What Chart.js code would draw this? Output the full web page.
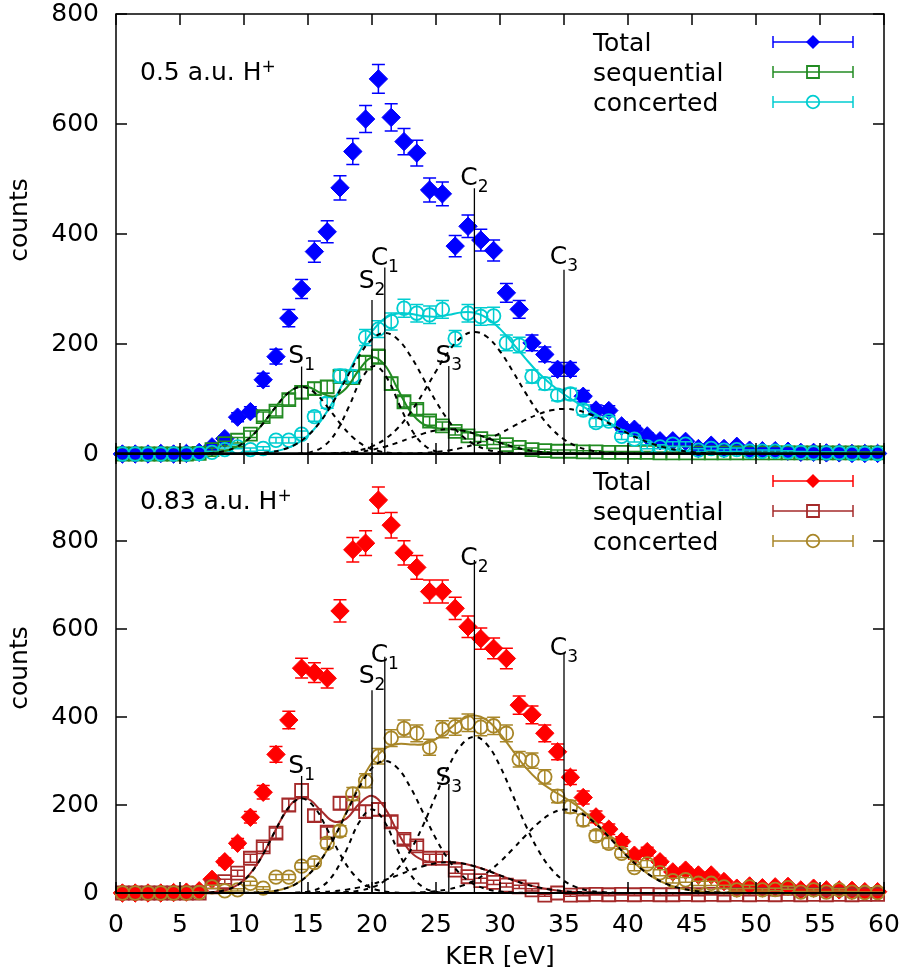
<!DOCTYPE html>
<html>
<head>
<meta charset="utf-8">
<title>KER spectra</title>
<script src="https://cdn.jsdelivr.net/npm/chart.js@4.4.1/dist/chart.umd.min.js"></script>
<style>
  html, body { margin: 0; padding: 0; background: #fff; }
  #page { position: relative; width: 904px; height: 976px; overflow: hidden; }
  #page canvas { position: absolute; left: 0; }
  #topChart { top: 0; }
  #bottomChart { top: 433px; }
</style>
</head>
<body>
<div id="page">
  <canvas id="topChart" width="904" height="470"></canvas>
  <canvas id="bottomChart" width="904" height="543"></canvas>
</div>
<script>
(function() {
    'use strict';

    // ---- data --------------------------------------------------------------

    // KER bin centres [eV]
    const kerBins = [0.5, 1.5, 2.5, 3.5, 4.5, 5.5, 6.5, 7.5, 8.5, 9.5,
        10.5, 11.5, 12.5, 13.5, 14.5, 15.5, 16.5, 17.5, 18.5, 19.5,
        20.5, 21.5, 22.5, 23.5, 24.5, 25.5, 26.5, 27.5, 28.5, 29.5,
        30.5, 31.5, 32.5, 33.5, 34.5, 35.5, 36.5, 37.5, 38.5, 39.5,
        40.5, 41.5, 42.5, 43.5, 44.5, 45.5, 46.5, 47.5, 48.5, 49.5,
        50.5, 51.5, 52.5, 53.5, 54.5, 55.5, 56.5, 57.5, 58.5, 59.5];

    const xTicks = [0, 5, 10, 15, 20, 25, 30, 35, 40, 45, 50, 55, 60];
    const yTicksTop = [0, 200, 400, 600, 800];
    const yTicksBottom = [0, 200, 400, 600, 800];

    // 0.5 a.u. H+ : counts per bin
    const topTotal = [0, 0, 0, 1, 0, 1, 3, 13, 28, 67,
        77, 135, 177, 247, 300, 368, 404, 484, 550, 609,
        682, 612, 568, 547, 480, 473, 378, 414, 389, 370,
        293, 263, 202, 181, 154, 154, 105, 80, 79, 51,
        45, 33, 24, 24, 23, 10, 16, 10, 14, 7,
        6, 6, 5, 3, 3, 2, 2, 1, 1, 1];
    const topSequential = [0, 0, 0, 0, 0, 0, 1, 8, 19, 25,
        36, 68, 78, 99, 112, 119, 122, 141, 139, 166,
        177, 128, 95, 81, 60, 51, 41, 33, 28, 22,
        17, 12, 8, 6, 5, 5, 4, 4, 3, 3,
        3, 3, 2, 2, 2, 2, 2, 2, 2, 2,
        2, 2, 2, 2, 2, 2, 2, 2, 2, 2];
    const topConcerted = [0, 0, 0, 0, 0, 0, 1, 3, 8, 13,
        8, 10, 25, 25, 36, 68, 93, 142, 141, 212,
        227, 241, 265, 256, 253, 263, 210, 256, 250, 251,
        202, 198, 141, 128, 107, 109, 80, 57, 60, 32,
        27, 13, 13, 18, 18, 7, 10, 7, 8, 5,
        5, 5, 4, 3, 2, 2, 2, 1, 1, 1];

    // 0.5 a.u. H+ : fit curves, one sample per eV starting at x0
    const topSeqFit = { x0: 6, y: [0.2, 0.9, 3.1, 8.8, 21.0, 42.1, 70.9, 100.4, 119.8, 121.9,
        111.2, 104.8, 119.9, 153.2, 175.6, 161.4, 118.5, 76.9, 54.2, 47.5,
        45.9, 43.0, 37.0, 29.0, 20.6, 13.3, 7.8, 4.1, 2.0, 0.9, 0.3] };
    const topConcFit = { x0: 10, y: [0.4, 1.2, 3.3, 7.9, 17.2, 33.8, 60.3, 96.9, 140.6, 185.4,
        222.7, 246.7, 255.6, 254.9, 250.7, 249.7, 253.1, 257.5, 256.9, 247.1,
        227.5, 201.3, 173.4, 147.7, 126.3, 108.7, 93.4, 79.1, 64.8, 50.9,
        37.9, 26.6, 17.7, 11.1, 6.5, 3.6, 1.9, 0.9, 0.4] };
    const topS1 = { x0: 6.5, y: [0.5, 1.7, 5.4, 13.9, 30.4, 55.9, 86.2, 111.9, 122, 111.9, 86.2, 55.9, 30.4, 13.9, 5.4, 1.7, 0.5] };
    const topS2 = { x0: 14.2, y: [0.6, 3.4, 13.6, 39.9, 86.3, 137.1, 160, 137.1, 86.3, 39.9, 13.6, 3.4, 0.6] };
    const topS3 = { x0: 17, y: [0.9, 2.0, 4.1, 7.8, 13.3, 20.6, 29.0, 37.0, 42.9, 45, 42.9, 37.0, 29.0, 20.6, 13.3, 7.8, 4.1, 2.0, 0.9] };
    const topC1 = { x0: 10, y: [0.4, 1.2, 3.3, 7.9, 17.2, 33.8, 59.9, 95.7, 137.7, 178.7, 208.8, 220,
        208.8, 178.7, 137.7, 95.7, 59.9, 33.8, 17.2, 7.9, 3.3, 1.2, 0.4] };
    const topC2 = { x0: 16, y: [0.4, 1.2, 2.9, 6.7, 13.9, 26.7, 46.8, 75.3, 111.1, 150.4, 186.7, 212.6, 222,
        212.6, 186.7, 150.4, 111.1, 75.3, 46.8, 26.7, 13.9, 6.7, 2.9, 1.2, 0.4] };
    const topC3 = { x0: 22, y: [0.4, 0.9, 1.9, 3.6, 6.5, 11.1, 17.7, 26.6, 37.5, 49.7, 61.9, 72.4, 79.5, 82,
        79.5, 72.4, 61.9, 49.7, 37.5, 26.6, 17.7, 11.1, 6.5, 3.6, 1.9, 0.9, 0.4] };

    // 0.83 a.u. H+ : counts per bin
    const bottomTotal = [0, 0, 0, 0, 1, 2, 5, 31, 71, 113,
        172, 229, 315, 393, 511, 501, 488, 641, 780, 795,
        893, 836, 773, 740, 685, 685, 647, 605, 578, 556,
        533, 427, 405, 363, 321, 263, 217, 173, 145, 117,
        86, 94, 71, 48, 52, 41, 41, 26, 11, 16,
        12, 14, 15, 7, 11, 7, 7, 6, 3, 3];
    const bottomSequential = [0, 0, 0, 0, 0, 0, 0, 14, 26, 45,
        79, 105, 136, 200, 233, 176, 138, 204, 204, 185,
        190, 162, 122, 107, 79, 79, 52, 37, 28, 24,
        18, 14, 7, -5, 0, -5, -4, -3, -4, -3,
        -4, -3, -4, -4, -3, -4, -3, -4, -3, -4,
        -3, -4, -3, -4, -3, -4, -3, -4, -3, -3];
    const bottomConcerted = [0, 0, 0, 0, 0, 0, 1, 14, 5, 7,
        22, 11, 36, 36, 61, 69, 113, 141, 225, 255,
        311, 352, 374, 363, 331, 372, 378, 387, 377, 380,
        363, 304, 301, 264, 220, 196, 166, 130, 113, 90,
        58, 66, 46, 28, 30, 22, 22, 14, 7, 14,
        7, 8, 12, 2, 7, 2, 7, 2, 1, 1];

    // 0.83 a.u. H+ : fit curves
    const bottomSeqFit = { x0: 6, y: [0.2, 0.8, 3.3, 10.8, 29.1, 64.1, 116.0, 172.1, 210.8, 213.8,
        187.5, 162.6, 169.2, 202.7, 220.9, 193.6, 138.5, 93.9, 74.1, 70.5,
        70.5, 67.6, 60.9, 51.3, 40.2, 29.5, 20.1, 12.8, 7.6, 4.2, 2.2, 1.1, 0.5] };
    const bottomConcFit = { x0: 10, y: [0.4, 1.2, 3.3, 8.6, 19.7, 40.6, 75.0, 124.0, 184.0, 245.4,
        296.5, 327.8, 338.4, 337.7, 338.3, 349.9, 371.7, 393.9, 403.3, 392.3,
        362.4, 323.3, 285.5, 255.9, 234.9, 217.5, 198.3, 174.0, 144.7, 112.8,
        81.9, 55.6, 35.1, 20.6, 11.2, 5.7, 2.7, 1.2, 0.5] };
    const bottomS1 = { x0: 6.5, y: [0.4, 1.7, 6.1, 18.2, 44.3, 88.4, 144.8, 194.8, 215, 194.8, 144.8, 88.4, 44.3, 18.2, 6.1, 1.7, 0.4] };
    const bottomS2 = { x0: 14, y: [0.5, 2.9, 13.2, 42.4, 97.5, 160.8, 190, 160.8, 97.5, 42.4, 13.2, 2.9, 0.5] };
    const bottomS3 = { x0: 14, y: [0.5, 1.1, 2.2, 4.2, 7.6, 12.8, 20.1, 29.5, 40.2, 51.3, 60.9, 67.6, 70,
        67.6, 60.9, 51.3, 40.2, 29.5, 20.1, 12.8, 7.6, 4.2, 2.2, 1.1, 0.5] };
    const bottomC1 = { x0: 10, y: [0.4, 1.2, 3.3, 8.6, 19.7, 40.6, 74.8, 123.3, 182.0, 240.2, 283.8, 300,
        283.8, 240.2, 182.0, 123.3, 74.8, 40.6, 19.7, 8.6, 3.3, 1.2, 0.4] };
    const bottomC2 = { x0: 17, y: [0.7, 2.0, 5.2, 12.7, 27.8, 54.6, 96.7, 154.4, 222.3, 288.3, 337.0, 355,
        337.0, 288.3, 222.3, 154.4, 96.7, 54.6, 27.8, 12.7, 5.2, 2.0, 0.7] };
    const bottomC3 = { x0: 23, y: [0.8, 1.9, 4.3, 8.6, 16.3, 28.6, 46.7, 70.8, 99.8, 130.7, 159.2, 180.3, 189.7,
        185.6, 168.8, 142.7, 112.1, 81.9, 55.6, 35.1, 20.6, 11.2, 5.7, 2.7, 1.2, 0.5] };

    // peak positions (vertical markers) and their labels
    const markKer = [14.5, 20, 21, 26, 28, 35];
    const markName = ['S', 'S', 'C', 'S', 'C', 'C'];
    const markSub = ['1', '2', '1', '3', '2', '3'];
    const topMarkTop = [159, 280, 339, 160, 483, 335];
    const topMarkLabel = [165, 302, 344, 165, 489, 345];
    const bottomMarkTop = [266, 461, 537, 248, 757, 545];
    const bottomMarkLabel = [272, 477, 526, 245, 745, 541];

    const legendNames = ['Total', 'sequential', 'concerted'];

    // ---- styling -----------------------------------------------------------
    const FONT = '"DejaVu Sans", sans-serif';
    const markerStyles = ['rectRot', 'rect', 'circle'];

    function points(values) {
        return values.map((v, i) => ({ x: kerBins[i], y: v }));
    }

    function curve(c) {
        return c.y.map((v, i) => ({ x: c.x0 + i, y: v }));
    }

    function markerSet(values, color, style, order) {
        const filled = style === 'rectRot';
        const radius = { rectRot: 9.2, rect: 9.2, circle: 6.8 }[style];
        return {
            data: points(values),
            showLine: false,
            errorBars: true,
            pointStyle: style,
            pointRadius: radius,
            pointHoverRadius: radius,
            pointBackgroundColor: filled ? color : 'rgba(0,0,0,0)',
            pointBorderColor: color,
            pointBorderWidth: filled ? 1 : 1.8,
            borderColor: color,
            backgroundColor: color,
            clip: false,
            order: order
        };
    }

    function lineSet(c, color, dashed, order) {
        return {
            data: curve(c),
            showLine: true,
            pointRadius: 0,
            pointHoverRadius: 0,
            borderColor: color,
            borderWidth: 2,
            borderDash: dashed ? [5, 5] : [],
            tension: 0.4,
            fill: false,
            clip: false,
            order: order
        };
    }

    function seg(ctx, x1, y1, x2, y2) {
        ctx.beginPath();
        ctx.moveTo(x1, y1);
        ctx.lineTo(x2, y2);
        ctx.stroke();
    }

    function drawMarker(ctx, style, x, y, color) {
        ctx.save();
        ctx.strokeStyle = color;
        ctx.fillStyle = color;
        ctx.lineWidth = 1.8;
        ctx.beginPath();
        if (style === 'rectRot') {
            ctx.moveTo(x, y - 7);
            ctx.lineTo(x + 7, y);
            ctx.lineTo(x, y + 7);
            ctx.lineTo(x - 7, y);
            ctx.closePath();
            ctx.fill();
        } else if (style === 'rect') {
            ctx.rect(x - 6, y - 6, 12, 12);
            ctx.stroke();
        } else {
            ctx.arc(x, y, 6.3, 0, Math.PI * 2);
            ctx.stroke();
        }
        ctx.restore();
    }

    // error bars, frame with inward ticks, peak markers, legend, captions
    function decor(p) {
        return {
            id: 'decor',
            beforeDatasetDraw(chart, args) {
                const ds = chart.data.datasets[args.index];
                if (!ds.errorBars) return;
                const { ctx, scales: { x, y } } = chart;
                ctx.save();
                ctx.strokeStyle = ds.borderColor;
                ctx.lineWidth = 1.5;
                ctx.beginPath();
                ds.data.forEach(pt => {
                    // Poisson uncertainty of the counts
                    const err = Math.sqrt(Math.abs(pt.y));
                    if (err < 1) return;
                    const px = x.getPixelForValue(pt.x);
                    const lo = y.getPixelForValue(pt.y - err);
                    const hi = y.getPixelForValue(pt.y + err);
                    ctx.moveTo(px, lo); ctx.lineTo(px, hi);
                    ctx.moveTo(px - 6.5, lo); ctx.lineTo(px + 6.5, lo);
                    ctx.moveTo(px - 6.5, hi); ctx.lineTo(px + 6.5, hi);
                });
                ctx.stroke();
                ctx.restore();
            },
            afterDatasetsDraw(chart) {
                const { ctx, chartArea: a, scales: { x, y } } = chart;
                ctx.save();
                ctx.strokeStyle = '#000';
                ctx.fillStyle = '#000';
                ctx.setLineDash([]);

                // zero line
                ctx.lineWidth = 2;
                const y0 = y.getPixelForValue(0);
                seg(ctx, a.left, y0, a.right, y0);

                // peak markers
                ctx.textAlign = 'left';
                ctx.textBaseline = 'alphabetic';
                markKer.forEach((k, i) => {
                    const px = x.getPixelForValue(k);
                    ctx.lineWidth = 1.3;
                    seg(ctx, px, y0, px, y.getPixelForValue(p.markTop[i]));
                    const base = y.getPixelForValue(p.markLabel[i]);
                    ctx.font = '25px ' + FONT;
                    const w1 = ctx.measureText(markName[i]).width;
                    ctx.font = '17px ' + FONT;
                    const w2 = ctx.measureText(markSub[i]).width;
                    const left = px - (w1 + w2) / 2;
                    ctx.font = '25px ' + FONT;
                    ctx.fillText(markName[i], left, base);
                    ctx.font = '17px ' + FONT;
                    ctx.fillText(markSub[i], left + w1, base + 7);
                });

                // frame and inward ticks
                ctx.lineWidth = 1.5;
                ctx.strokeRect(a.left, a.top, a.width, a.height);
                x.ticks.forEach(t => {
                    const px = x.getPixelForValue(t.value);
                    seg(ctx, px, a.bottom, px, a.bottom - 11);
                    seg(ctx, px, a.top, px, a.top + 11);
                });
                y.ticks.forEach(t => {
                    const py = y.getPixelForValue(t.value);
                    seg(ctx, a.left, py, a.left + 11, py);
                    seg(ctx, a.right, py, a.right - 11, py);
                });

                // panel caption
                ctx.font = '25px ' + FONT;
                const cx = a.left + 24;
                const cy = a.top + p.captionDy;
                ctx.fillText(p.caption, cx, cy);
                const cw = ctx.measureText(p.caption).width;
                ctx.font = '17px ' + FONT;
                ctx.fillText('+', cx + cw, cy - 8);

                // legend
                legendNames.forEach((name, i) => {
                    const rowY = a.top + 28 + i * 30;
                    ctx.font = '25px ' + FONT;
                    ctx.fillStyle = '#000';
                    ctx.fillText(name, a.right - 291, rowY + 9);
                    const x1 = a.right - 111, x2 = a.right - 31;
                    ctx.strokeStyle = p.colors[i];
                    ctx.lineWidth = 1.5;
                    seg(ctx, x1, rowY, x2, rowY);
                    seg(ctx, x1, rowY - 6, x1, rowY + 6);
                    seg(ctx, x2, rowY - 6, x2, rowY + 6);
                    drawMarker(ctx, markerStyles[i], (x1 + x2) / 2, rowY, p.colors[i]);
                });

                // y axis title
                ctx.save();
                ctx.fillStyle = '#000';
                ctx.font = '25px ' + FONT;
                ctx.translate(20, a.top + p.yTitleDy);
                ctx.rotate(-Math.PI / 2);
                ctx.textAlign = 'center';
                ctx.textBaseline = 'middle';
                ctx.fillText('counts', 0, 0);
                ctx.restore();

                ctx.restore();
            }
        };
    }

    function makeChart(id, p) {
        const datasets = [
            markerSet(p.total, p.colors[0], 'rectRot', 9),
            markerSet(p.seq, p.colors[1], 'rect', 8),
            markerSet(p.conc, p.colors[2], 'circle', 7),
            lineSet(p.seqFit, p.colors[1], false, 6),
            lineSet(p.concFit, p.colors[2], false, 5)
        ].concat(p.gauss.map(g => lineSet(g, '#000', true, 3)));

        return new Chart(document.getElementById(id), {
            type: 'scatter',
            data: { datasets: datasets },
            options: {
                responsive: false,
                animation: false,
                events: [],
                layout: { padding: p.padding },
                plugins: {
                    legend: { display: false },
                    tooltip: { enabled: false }
                },
                scales: {
                    x: {
                        type: 'linear',
                        min: 0,
                        max: 60,
                        afterBuildTicks: s => { s.ticks = xTicks.map(v => ({ value: v })); },
                        grid: { display: false, drawTicks: true, tickLength: 17 },
                        border: { display: false },
                        ticks: {
                            display: p.showX,
                            padding: 0,
                            maxRotation: 0,
                            color: '#000',
                            font: { family: FONT, size: 25, lineHeight: 1.2 }
                        },
                        title: {
                            display: p.showX,
                            text: 'KER [eV]',
                            color: '#000',
                            font: { family: FONT, size: 25, lineHeight: 1.2 },
                            padding: { top: 0, bottom: 4 }
                        },
                        afterFit: s => { s.height = p.xHeight; }
                    },
                    y: {
                        type: 'linear',
                        min: 0,
                        max: p.yMax,
                        afterBuildTicks: s => { s.ticks = p.yTicks.map(v => ({ value: v })); },
                        grid: { display: false, drawTicks: true, tickLength: 17 },
                        border: { display: false },
                        ticks: {
                            padding: 0,
                            color: '#000',
                            font: { family: FONT, size: 25, lineHeight: 1 }
                        },
                        afterFit: s => { s.width = 116; }
                    }
                }
            },
            plugins: [decor(p)]
        });
    }

    makeChart('topChart', {
        total: topTotal, seq: topSequential, conc: topConcerted,
        seqFit: topSeqFit, concFit: topConcFit,
        gauss: [topS1, topS2, topS3, topC1, topC2, topC3],
        colors: ['#0000ff', '#228b22', '#00cdd0'],
        markTop: topMarkTop, markLabel: topMarkLabel,
        caption: '0.5 a.u. H', captionDy: 66, yTitleDy: 206,
        yMax: 800, yTicks: yTicksTop,
        showX: false, xHeight: 0,
        padding: { top: 14, right: 20, bottom: 16, left: 0 }
    });

    makeChart('bottomChart', {
        total: bottomTotal, seq: bottomSequential, conc: bottomConcerted,
        seqFit: bottomSeqFit, concFit: bottomConcFit,
        gauss: [bottomS1, bottomS2, bottomS3, bottomC1, bottomC2, bottomC3],
        colors: ['#ff0000', '#a52a2a', '#a88628'],
        markTop: bottomMarkTop, markLabel: bottomMarkLabel,
        caption: '0.83 a.u. H', captionDy: 56, yTitleDy: 215,
        yMax: 1000, yTicks: yTicksBottom,
        showX: true, xHeight: 83,
        padding: { top: 20, right: 20, bottom: 0, left: 0 }
    });

})();
</script>
</body>
</html>
